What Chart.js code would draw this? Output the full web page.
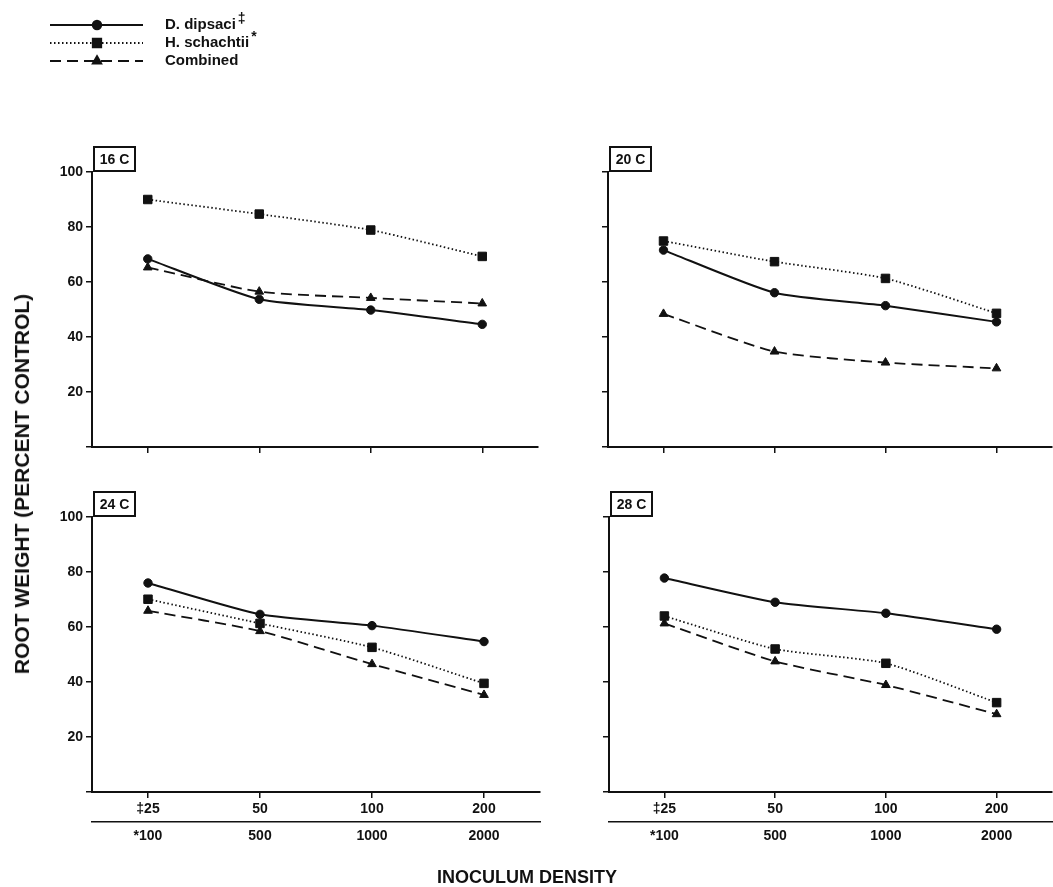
<!DOCTYPE html>
<html><head><meta charset="utf-8">
<script src="https://cdn.jsdelivr.net/npm/chart.js@4"></script>
<style>
body{margin:0;background:#fff;width:1053px;height:887px;overflow:hidden;position:relative;font-family:"Liberation Sans",Arial,sans-serif;}
.p{position:absolute;}
#ytitle{position:absolute;left:22px;top:484px;transform:translate(-50%,-50%) rotate(-90deg);white-space:nowrap;font-weight:bold;font-size:21px;color:#111;}
#xtitle{position:absolute;left:527px;top:877px;transform:translate(-50%,-50%);white-space:nowrap;font-weight:bold;font-size:18px;color:#111;}
</style></head><body>
<div class="p" style="left:0;top:0;width:550px;height:460px"><canvas id="c16"></canvas></div>
<div class="p" style="left:550px;top:120px;width:509px;height:340px"><canvas id="c20"></canvas></div>
<div class="p" style="left:0;top:460px;width:550px;height:427px"><canvas id="c24"></canvas></div>
<div class="p" style="left:550px;top:460px;width:509px;height:427px"><canvas id="c28"></canvas></div>
<div id="ytitle">ROOT WEIGHT (PERCENT CONTROL)</div>
<div id="xtitle">INOCULUM DENSITY</div>
<script>
// ---- data ----
const dipsaciDensity = ['‡25', '50', '100', '200'];
const schachtiiDensity = ['*100', '500', '1000', '2000'];
const seriesNames = ['D. dipsaci', 'H. schachtii', 'Combined'];
const seriesMarks = ['‡', '*', ''];
const yTickValues = [0, 20, 40, 60, 80, 100];
const panelTitles = ['16 C', '20 C', '24 C', '28 C'];

const dipsaci16 = [68.4, 53.7, 49.8, 44.6];
const schachtii16 = [90.0, 84.7, 78.9, 69.3];
const combined16 = [65.3, 56.5, 54.2, 52.2];

const dipsaci20 = [71.6, 56.1, 51.4, 45.5];
const schachtii20 = [74.9, 67.4, 61.3, 48.6];
const combined20 = [48.4, 34.7, 30.7, 28.6];

const dipsaci24 = [76.0, 64.6, 60.5, 54.7];
const schachtii24 = [70.1, 61.3, 52.6, 39.5];
const combined24 = [65.9, 58.5, 46.5, 35.3];

const dipsaci28 = [77.8, 69.0, 65.0, 59.2];
const schachtii28 = [64.0, 52.0, 46.8, 32.5];
const combined28 = [61.3, 47.5, 38.9, 28.3];

// ---- styles ----
const FONT = '"Liberation Sans", Arial, sans-serif';
const INK = '#111';
const seriesStyles = [
  {borderDash: [], pointStyle: 'circle', pointRadius: 4.2, borderWidth: 2},
  {borderDash: [1.5, 2.5], pointStyle: 'rect', pointRadius: 6, borderWidth: 1.8},
  {borderDash: [11, 6], pointStyle: 'triangle', pointRadius: 5, borderWidth: 1.8}
];

const panelLabelPlugin = {
  id: 'panelLabel',
  afterDraw(chart, args, o) {
    const ctx = chart.ctx, a = chart.chartArea;
    ctx.save();
    const x = a.left + 2, w = 41, h = 24, y = a.top - h - 1;
    ctx.fillStyle = '#fff';
    ctx.fillRect(x, y, w, h);
    ctx.strokeStyle = INK; ctx.lineWidth = 2;
    ctx.strokeRect(x, y, w, h);
    ctx.fillStyle = INK;
    ctx.font = 'bold 14px ' + FONT;
    ctx.textAlign = 'center'; ctx.textBaseline = 'middle';
    ctx.fillText(o.text, x + w / 2, y + h / 2 + 1);
    ctx.restore();
  }
};

const refLegendPlugin = {
  id: 'refLegend',
  afterDraw(chart, args, o) {
    if (!o.show) return;
    const ctx = chart.ctx;
    ctx.save();
    chart.data.datasets.forEach((ds, i) => {
      const y = 25 + i * 18;
      ctx.strokeStyle = INK; ctx.fillStyle = INK;
      ctx.lineWidth = ds.borderWidth;
      ctx.setLineDash(ds.borderDash || []);
      ctx.beginPath(); ctx.moveTo(50, y); ctx.lineTo(143, y); ctx.stroke();
      ctx.setLineDash([]);
      Chart.helpers.drawPoint(ctx, {pointStyle: ds.pointStyle, radius: ds.pointRadius, borderWidth: 1, rotation: 0}, 97, y);
      ctx.font = 'bold 15px ' + FONT;
      ctx.textAlign = 'left'; ctx.textBaseline = 'middle';
      ctx.fillText(ds.label, 165, y);
      const w = ctx.measureText(ds.label).width;
      if (seriesMarks[i]) {
        ctx.font = 'bold 14px ' + FONT;
        ctx.fillText(seriesMarks[i], 165 + w + 2, y - 6);
      }
    });
    ctx.restore();
  }
};

function makePanel(id, title, values, cfg) {
  const datasets = values.map((v, i) => Object.assign({
    label: seriesNames[i],
    data: v,
    borderColor: INK,
    backgroundColor: INK,
    pointBackgroundColor: INK,
    pointBorderColor: INK,
    pointBorderWidth: 1,
    tension: 0.2,
    fill: false
  }, seriesStyles[i]));

  const tickFont = {family: FONT, size: 14, weight: 'bold'};
  const scales = {
    x: {
      type: 'category', labels: dipsaciDensity, offset: true, weight: 0,
      grid: {offset: false, drawOnChartArea: false, drawTicks: true, tickLength: 6, color: INK, lineWidth: 1.5},
      border: {display: true, color: INK, width: 2},
      ticks: {display: cfg.bottom, color: INK, font: tickFont, padding: 3, maxRotation: 0, autoSkip: false},
      afterFit: s => { s.height = cfg.xh; }
    },
    y: {
      min: 0, max: 100,
      afterBuildTicks: s => { s.ticks = yTickValues.map(v => ({value: v})); },
      grid: {drawOnChartArea: false, drawTicks: true, tickLength: 6, color: INK, lineWidth: 1.5},
      border: {display: true, color: INK, width: 2},
      ticks: {color: INK, font: tickFont, padding: 3,
        callback: v => (cfg.yLabels && v !== 0) ? String(v) : ''},
      afterFit: s => { s.width = cfg.yw; }
    }
  };
  if (cfg.bottom) {
    scales.x2 = {
      type: 'category', labels: schachtiiDensity, offset: true, position: 'bottom', weight: 1,
      grid: {display: false, drawTicks: false},
      border: {display: true, color: INK, width: 1.5},
      ticks: {color: INK, font: tickFont, padding: 6, maxRotation: 0, autoSkip: false},
      afterFit: s => { s.height = 30; }
    };
  }
  return new Chart(document.getElementById(id), {
    type: 'line',
    data: {labels: dipsaciDensity, datasets},
    options: {
      responsive: true, maintainAspectRatio: false, animation: false,
      layout: {padding: cfg.pad},
      scales,
      plugins: {
        legend: {display: false}, tooltip: {enabled: false},
        panelLabel: {text: title},
        refLegend: {show: !!cfg.legend}
      }
    },
    plugins: [panelLabelPlugin, refLegendPlugin]
  });
}

makePanel('c16', panelTitles[0], [dipsaci16, schachtii16, combined16],
  {yw: 92, xh: 13, pad: {top: 172, right: 12, left: 0, bottom: 0}, bottom: false, yLabels: true, legend: true});
makePanel('c20', panelTitles[1], [dipsaci20, schachtii20, combined20],
  {yw: 58, xh: 13, pad: {top: 52, right: 0, left: 0, bottom: 0}, bottom: false, yLabels: false});
makePanel('c24', panelTitles[2], [dipsaci24, schachtii24, combined24],
  {yw: 92, xh: 30, pad: {top: 57, right: 10, left: 0, bottom: 35}, bottom: true, yLabels: true});
makePanel('c28', panelTitles[3], [dipsaci28, schachtii28, combined28],
  {yw: 59, xh: 30, pad: {top: 57, right: 0, left: 0, bottom: 35}, bottom: true, yLabels: false});
</script>
</body></html>
